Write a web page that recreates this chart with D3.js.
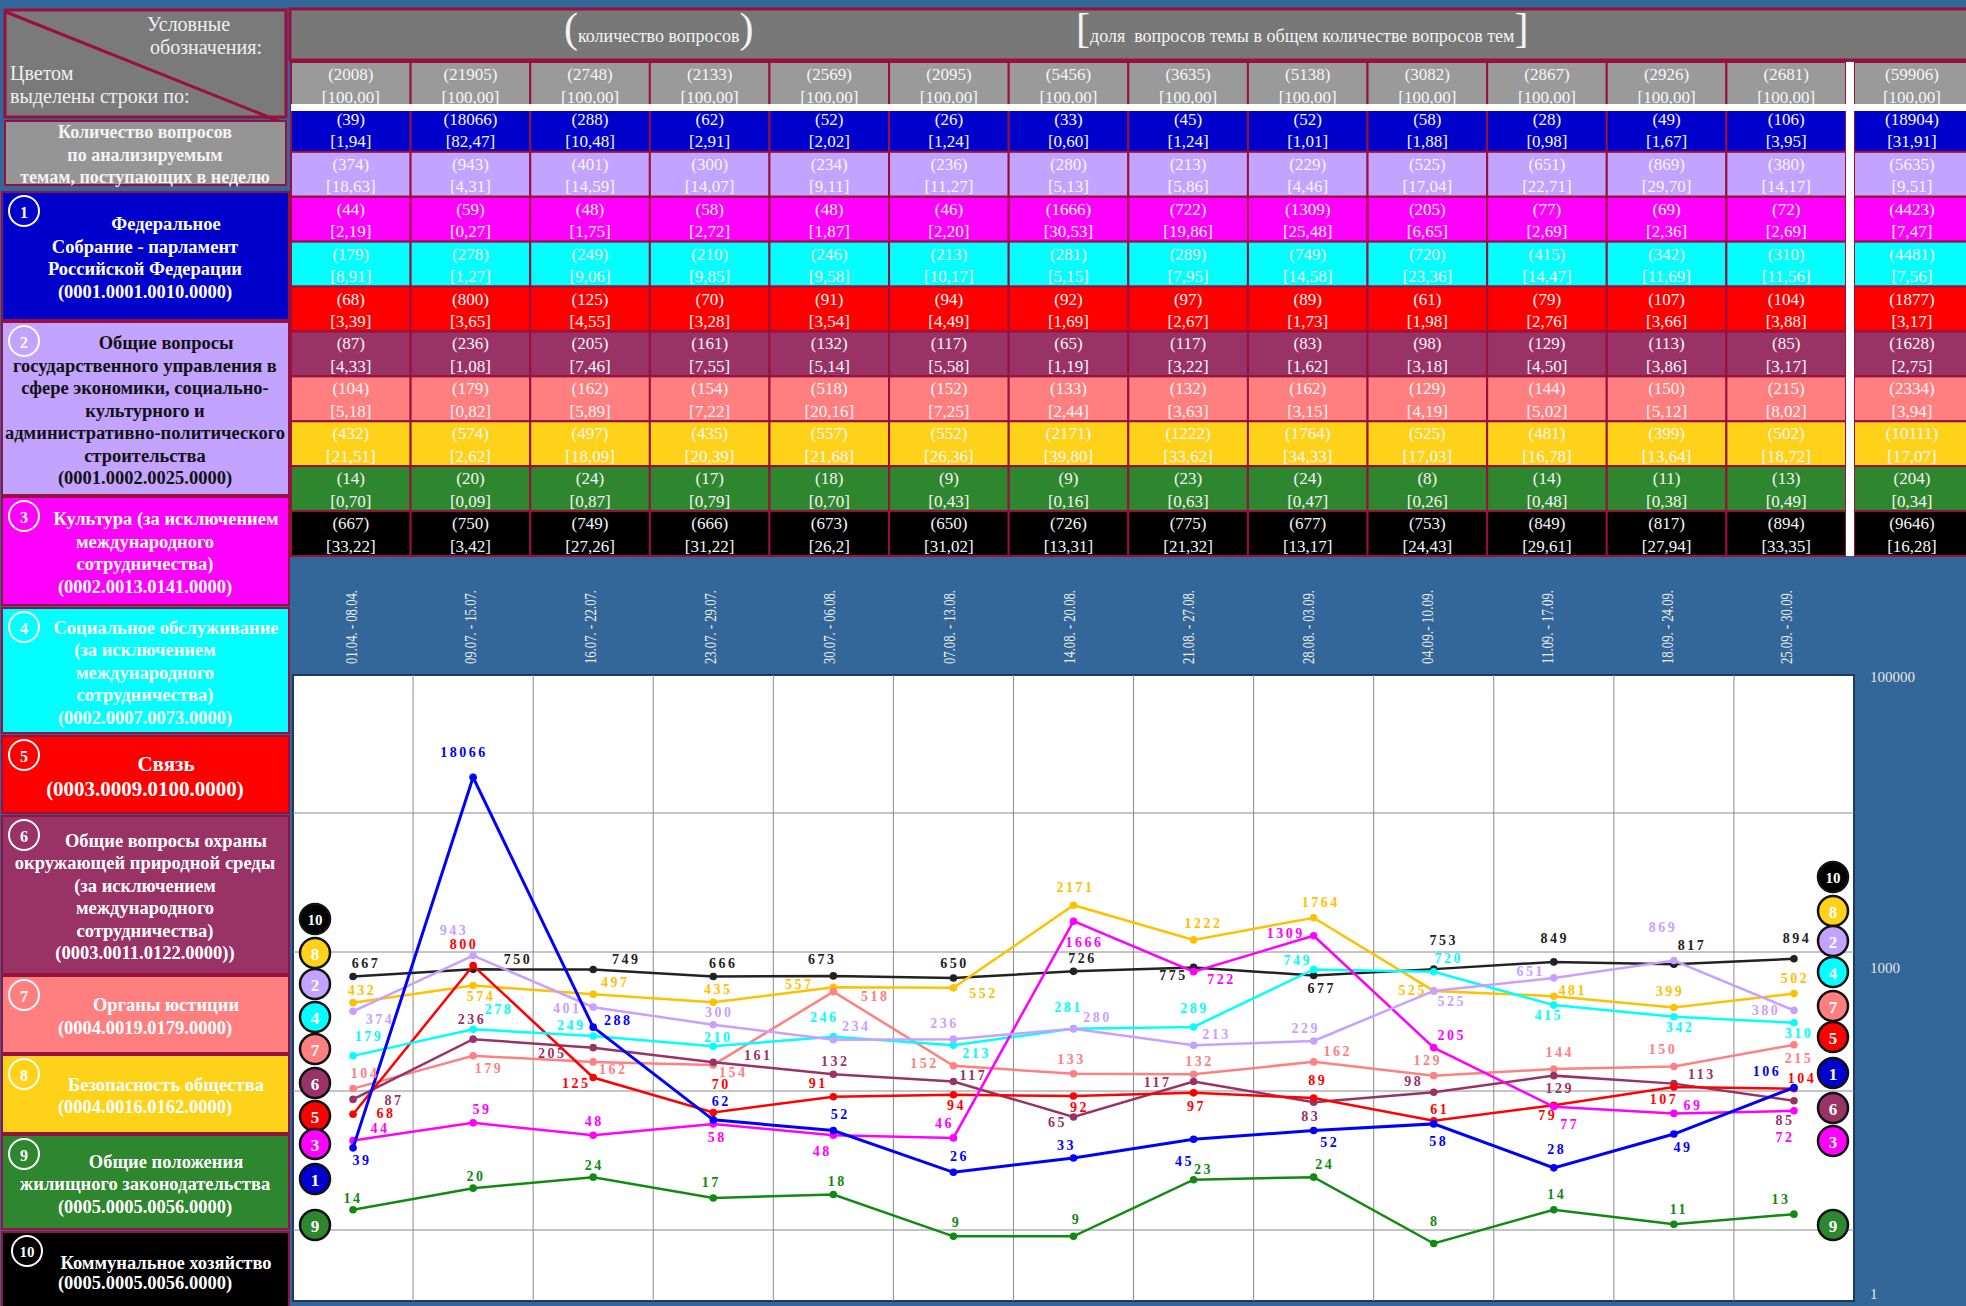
<!doctype html>
<html lang="ru">
<head>
<meta charset="utf-8">
<title>Количество вопросов по анализируемым темам, поступающих в неделю</title>
<script src="https://cdn.jsdelivr.net/npm/d3@7"></script>
<style>
  body { margin: 0; background: #336699; }
  svg { display: block; font-family: "Liberation Serif", "Times New Roman", serif; }
</style>
</head>
<body>
<script>
// ---- data ----
var dates = ["01.04. - 08.04.", "09.07. - 15.07.", "16.07. - 22.07.", "23.07. - 29.07.", "30.07. - 06.08.",
             "07.08. - 13.08.", "14.08. - 20.08.", "21.08. - 27.08.", "28.08. - 03.09.", "04.09.- 10.09.",
             "11.09. - 17.09.", "18.09. - 24.09.", "25.09. - 30.09."];

var weekTotal = [2008, 21905, 2748, 2133, 2569, 2095, 5456, 3635, 5138, 3082, 2867, 2926, 2681];
var grandTotal = 59906;

var q1 = [39, 18066, 288, 62, 52, 26, 33, 45, 52, 58, 28, 49, 106];
var p1 = ["1,94","82,47","10,48","2,91","2,02","1,24","0,60","1,24","1,01","1,88","0,98","1,67","3,95"];
var q2 = [374, 943, 401, 300, 234, 236, 280, 213, 229, 525, 651, 869, 380];
var p2 = ["18,63","4,31","14,59","14,07","9,11","11,27","5,13","5,86","4,46","17,04","22,71","29,70","14,17"];
var q3 = [44, 59, 48, 58, 48, 46, 1666, 722, 1309, 205, 77, 69, 72];
var p3 = ["2,19","0,27","1,75","2,72","1,87","2,20","30,53","19,86","25,48","6,65","2,69","2,36","2,69"];
var q4 = [179, 278, 249, 210, 246, 213, 281, 289, 749, 720, 415, 342, 310];
var p4 = ["8,91","1,27","9,06","9,85","9,58","10,17","5,15","7,95","14,58","23,36","14,47","11,69","11,56"];
var q5 = [68, 800, 125, 70, 91, 94, 92, 97, 89, 61, 79, 107, 104];
var p5 = ["3,39","3,65","4,55","3,28","3,54","4,49","1,69","2,67","1,73","1,98","2,76","3,66","3,88"];
var q6 = [87, 236, 205, 161, 132, 117, 65, 117, 83, 98, 129, 113, 85];
var p6 = ["4,33","1,08","7,46","7,55","5,14","5,58","1,19","3,22","1,62","3,18","4,50","3,86","3,17"];
var q7 = [104, 179, 162, 154, 518, 152, 133, 132, 162, 129, 144, 150, 215];
var p7 = ["5,18","0,82","5,89","7,22","20,16","7,25","2,44","3,63","3,15","4,19","5,02","5,12","8,02"];
var q8 = [432, 574, 497, 435, 557, 552, 2171, 1222, 1764, 525, 481, 399, 502];
var p8 = ["21,51","2,62","18,09","20,39","21,68","26,36","39,80","33,62","34,33","17,03","16,78","13,64","18,72"];
var q9 = [14, 20, 24, 17, 18, 9, 9, 23, 24, 8, 14, 11, 13];
var p9 = ["0,70","0,09","0,87","0,79","0,70","0,43","0,16","0,63","0,47","0,26","0,48","0,38","0,49"];
var q10 = [667, 750, 749, 666, 673, 650, 726, 775, 677, 753, 849, 817, 894];
var p10 = ["33,22","3,42","27,26","31,22","26,2","31,02","13,31","21,32","13,17","24,43","29,61","27,94","33,35"];

var sumQ = [18904, 5635, 4423, 4481, 1877, 1628, 2334, 10111, 204, 9646];
var sumP = ["31,91","9,51","7,47","7,56","3,17","2,75","3,94","17,07","0,34","16,28"];

var legendLines = [
  ["Федеральное", "Собрание - парламент", "Российской Федерации", "(0001.0001.0010.0000)"],
  ["Общие вопросы", "государственного управления в", "сфере экономики, социально-", "культурного и", "административно-политического", "строительства", "(0001.0002.0025.0000)"],
  ["Культура (за исключением", "международного", "сотрудничества)", "(0002.0013.0141.0000)"],
  ["Социальное обслуживание", "(за исключением", "международного", "сотрудничества)", "(0002.0007.0073.0000)"],
  ["Связь", "(0003.0009.0100.0000)"],
  ["Общие вопросы охраны", "окружающей природной среды", "(за исключением", "международного", "сотрудничества)", "(0003.0011.0122.0000))"],
  ["Органы юстиции", "(0004.0019.0179.0000)"],
  ["Безопасность общества", "(0004.0016.0162.0000)"],
  ["Общие положения", "жилищного законодательства", "(0005.0005.0056.0000)"],
  ["Коммунальное хозяйство", "(0005.0005.0056.0000)"]
];

// ---- styles / layout ----
var rowFill = ["#0000cc", "#c2a3ff", "#ff00ff", "#00ffff", "#ff0000", "#993366", "#ff7f80", "#ffd21a", "#2e872e", "#000000"];
var lineColor = ["#0000ff", "#c8a0ff", "#ff00ff", "#00ffff", "#ff0000", "#993366", "#ff8080", "#ffc000", "#118a11", "#222222"];
var legendInk = ["#fff", "#111", "#fff", "#fff", "#fff", "#fff", "#fff", "#fff", "#fff", "#fff"];
var crimson = "#990f3d";

// label offsets [dx, dy] from each point
var labelOff = [
  [[9,13],[-9,-25],[25,-7],[8,-18],[7,-16],[6,-16],[-7,-12],[-9,22],[16,12],[5,18],[3,-18],[9,13],[-27,-16]],
  [[27,8],[-19,-25],[-26,1],[6,-12],[23,-13],[-9,-16],[24,-11],[23,-11],[-8,-12],[18,11],[-23,-6],[-11,-33],[-28,0]],
  [[27,-12],[9,-13],[1,-14],[4,14],[-11,16],[-9,-14],[11,21],[28,8],[-28,-2],[18,-12],[16,18],[19,-8],[-9,27]],
  [[16,-19],[26,-20],[-22,-10],[5,-9],[-9,-19],[23,8],[-5,-21],[1,-18],[-16,-9],[15,-13],[-5,10],[6,11],[5,11]],
  [[33,-1],[-9,-21],[-17,6],[8,-28],[-15,-13],[3,11],[6,11],[3,14],[4,-18],[6,-11],[-6,10],[-10,13],[8,-10]],
  [[41,1],[-1,-20],[-41,6],[45,-7],[2,-13],[20,-6],[-16,5],[-36,1],[-3,14],[-20,-11],[6,13],[28,-9],[-9,20]],
  [[12,-15],[16,13],[20,8],[20,8],[42,5],[-29,-2],[-2,-14],[6,-13],[24,-10],[-6,-15],[6,-16],[-11,-17],[5,14]],
  [[9,-12],[8,11],[22,-12],[5,-13],[-34,-3],[30,6],[2,-18],[10,-16],[7,-15],[-21,0],[19,-6],[-4,-16],[1,-15]],
  [[0,-11],[3,-12],[1,-12],[-2,-15],[4,-13],[3,-14],[3,-17],[10,-10],[11,-13],[1,-22],[3,-15],[5,-15],[-13,-15]],
  [[13,-13],[45,-10],[33,-10],[10,-13],[-11,-16],[1,-15],[9,-13],[-20,8],[8,13],[10,-29],[1,-23],[18,-19],[3,-20]]
];

// legend boxes on the left [top, bottom]
var legendBox = [[192,320],[322,495],[497,605],[608,733],[736,813],[816,974],[976,1053],[1055,1133],[1135,1229],[1232,1330]];
// badge stacks at both ends of the chart
var leftBadges = [[10,919],[8,953],[2,984],[4,1017],[7,1049],[6,1083],[5,1116],[3,1144],[1,1179],[9,1225]];
var rightBadges = [[10,877],[8,911],[2,941],[4,972],[7,1006],[5,1037],[1,1073],[6,1108],[3,1141],[9,1225]];

var seriesQ = [q1, q2, q3, q4, q5, q6, q7, q8, q9, q10];
var seriesP = [p1, p2, p3, p4, p5, p6, p7, p8, p9, p10];

var svg = d3.select("body").append("svg").attr("width", 1966).attr("height", 1306);
svg.append("rect").attr("width", 1966).attr("height", 1306).attr("fill", "#336699");

// ---- header band ----
svg.append("rect").attr("x", 290).attr("y", 9).attr("width", 1690).attr("height", 51)
   .attr("fill", "#787878").attr("stroke", crimson).attr("stroke-width", 3);

function caption(x, open, txt, close) {
    var t = svg.append("text").attr("x", x).attr("y", 42).attr("fill", "#f4f4f4").style("white-space", "pre");
    t.append("tspan").attr("font-size", 42).text(open);
    t.append("tspan").attr("font-size", 18).text(txt);
    t.append("tspan").attr("font-size", 42).text(close);
}
caption(564, "(", "количество вопросов", ")");
caption(1076, "[", "доля  вопросов темы в общем количестве вопросов тем", "]");

// ---- table ----
var rowKeys = ["all", "1", "2", "3", "4", "5", "6", "7", "8", "9", "10"];
var xCol = d3.scaleBand().domain(dates).range([291, 1846]);
var yRow = d3.scaleBand().domain(rowKeys).range([62, 556]);

var tableRows = [{key: "all", fill: "#9a9a9a", q: weekTotal, p: dates.map(function(){return "100,00";}), sq: grandTotal, sp: "100,00"}];
seriesQ.forEach(function(q, i){
    tableRows.push({key: String(i + 1), fill: rowFill[i], q: q, p: seriesP[i], sq: sumQ[i], sp: sumP[i]});
});

var cells = [];
tableRows.forEach(function(r){
    dates.forEach(function(d, i){
        cells.push({row: r.key, x: xCol(d), w: xCol.bandwidth(), q: r.q[i], p: r.p[i], fill: r.fill});
    });
    cells.push({row: r.key, x: 1854, w: 116, q: r.sq, p: r.sp, fill: r.fill});
});

var cell = svg.append("g").selectAll("g").data(cells).enter().append("g");
cell.append("rect")
    .attr("x", function(d){return d.x;})
    .attr("y", function(d){return yRow(d.row);})
    .attr("width", function(d){return d.w;})
    .attr("height", yRow.bandwidth())
    .attr("fill", function(d){return d.fill;})
    .attr("stroke", crimson).attr("stroke-width", 2);
cell.append("text")
    .attr("x", function(d){return d.x + d.w / 2;})
    .attr("y", function(d){return yRow(d.row) + 12.5;})
    .attr("text-anchor", "middle").attr("dominant-baseline", "central")
    .attr("font-size", 17).attr("fill", "#f6f6f6")
    .text(function(d){return "(" + d.q + ")";});
cell.append("text")
    .attr("x", function(d){return d.x + d.w / 2;})
    .attr("y", function(d){return yRow(d.row) + 35;})
    .attr("text-anchor", "middle").attr("dominant-baseline", "central")
    .attr("font-size", 17).attr("fill", "#f6f6f6")
    .text(function(d){return "[" + d.p + "]";});

// white separators
svg.append("rect").attr("x", 291).attr("y", 104).attr("width", 1680).attr("height", 7).attr("fill", "#fff");
svg.append("rect").attr("x", 1846).attr("y", 62).attr("width", 8).attr("height", 494).attr("fill", "#fff");

// ---- week labels ----
svg.append("g").selectAll("text").data(dates).enter().append("text")
    .attr("transform", function(d){return "translate(" + (xCol(d) + xCol.bandwidth() / 2 + 6) + ",664) rotate(-90)";})
    .attr("font-size", 17).attr("fill", "#eeeeee")
    .attr("textLength", 74).attr("lengthAdjust", "spacingAndGlyphs")
    .text(function(d){return d;});

// ---- chart ----
var xPlot = d3.scaleBand().domain(dates).range([293, 1854]);
var y = d3.scaleLog().domain([1, 100000]).range([1369, 674]);
function px(i){ return xPlot(dates[i]) + xPlot.bandwidth() / 2; }

svg.append("clipPath").attr("id", "plotClip").append("rect")
   .attr("x", 293).attr("y", 675).attr("width", 1561).attr("height", 626);
svg.append("rect").attr("x", 293).attr("y", 675).attr("width", 1561).attr("height", 626)
   .attr("fill", "#fff").attr("stroke", "#1d3a5c").attr("stroke-width", 2);

var plot = svg.append("g").attr("clip-path", "url(#plotClip)");
plot.append("g").selectAll("line").data(dates.slice(1)).enter().append("line")
    .attr("x1", function(d){return xPlot(d);}).attr("x2", function(d){return xPlot(d);})
    .attr("y1", 675).attr("y2", 1301)
    .attr("stroke", "#8a8a8a").attr("stroke-width", 1);
plot.append("g").selectAll("line").data([10, 100, 1000, 10000]).enter().append("line")
    .attr("x1", 293).attr("x2", 1854)
    .attr("y1", function(d){return y(d);}).attr("y2", function(d){return y(d);})
    .attr("stroke", "#8a8a8a").attr("stroke-width", 1);

var line = d3.line().x(function(d, i){return px(i);}).y(function(d){return y(d);});
var order = [9, 8, 7, 6, 5, 4, 3, 2, 1, 0];

order.forEach(function(s){
    var g = plot.append("g");
    g.append("path").attr("d", line(seriesQ[s])).attr("fill", "none")
     .attr("stroke", lineColor[s]).attr("stroke-width", s === 0 ? 3 : 2.5);
    g.selectAll("circle").data(seriesQ[s]).enter().append("circle")
     .attr("cx", function(d, i){return px(i);})
     .attr("cy", function(d){return y(d);})
     .attr("r", 3.8).attr("fill", lineColor[s]);
});
order.forEach(function(s){
    plot.append("g").selectAll("text").data(seriesQ[s]).enter().append("text")
     .attr("x", function(d, i){return px(i) + labelOff[s][i][0];})
     .attr("y", function(d, i){return y(d) + labelOff[s][i][1];})
     .attr("text-anchor", "middle").attr("dominant-baseline", "central")
     .attr("font-size", 14).attr("font-weight", "bold").attr("letter-spacing", 2.5)
     .attr("fill", lineColor[s])
     .text(function(d){return d;});
});

function badges(list, cx) {
    var b = svg.append("g").selectAll("g").data(list).enter().append("g");
    b.append("circle").attr("cx", cx).attr("cy", function(d){return d[1];}).attr("r", 15)
     .attr("fill", function(d){return rowFill[d[0] - 1];}).attr("stroke", "#111").attr("stroke-width", 2.5);
    b.append("text").attr("x", cx).attr("y", function(d){return d[1] + 1;})
     .attr("text-anchor", "middle").attr("dominant-baseline", "central")
     .attr("font-size", function(d){return d[0] === 10 ? 15 : 17;}).attr("font-weight", "bold").attr("fill", "#fff")
     .text(function(d){return d[0];});
}
badges(leftBadges, 315);
badges(rightBadges, 1833);

// right axis captions
var yRight = d3.scaleLog().domain([1, 1000, 100000]).range([1294, 968, 677]);
svg.append("g").selectAll("text").data([100000, 1000, 1]).enter().append("text")
    .attr("x", 1870).attr("y", function(d){return yRight(d);})
    .attr("dominant-baseline", "central").attr("font-size", 15).attr("fill", "#e6e6e6")
    .text(function(d){return d;});

// ---- left legend ----
svg.append("rect").attr("x", 5).attr("y", 10).attr("width", 281).attr("height", 107)
   .attr("fill", "#7a7a7a").attr("stroke", crimson).attr("stroke-width", 3);
svg.append("line").attr("x1", 6).attr("y1", 12).attr("x2", 286).attr("y2", 124)
   .attr("stroke", crimson).attr("stroke-width", 3);
var head = svg.append("g").attr("fill", "#f0f0f0").attr("font-size", 20);
head.append("text").attr("x", 147).attr("y", 31).text("Условные");
head.append("text").attr("x", 150).attr("y", 54).text("обозначения:");
head.append("text").attr("x", 10).attr("y", 80).text("Цветом");
head.append("text").attr("x", 10).attr("y", 103).text("выделены строки по:");

svg.append("rect").attr("x", 5).attr("y", 121).attr("width", 281).attr("height", 64)
   .attr("fill", "#959595").attr("stroke", crimson).attr("stroke-width", 2);
svg.append("g").selectAll("text").data(["Количество вопросов", "по анализируемым", "темам, поступающих в неделю"])
   .enter().append("text")
   .attr("x", 145).attr("y", function(d, i){return 132 + i * 22.5;})
   .attr("text-anchor", "middle").attr("dominant-baseline", "central")
   .attr("font-size", 18).attr("font-weight", "bold").attr("fill", "#f4f4f4")
   .text(function(d){return d;});

legendLines.forEach(function(lines, i){
    var top = legendBox[i][0], bottom = legendBox[i][1];
    var g = svg.append("g");
    g.append("rect").attr("x", 2).attr("y", top).attr("width", 287).attr("height", bottom - top)
     .attr("fill", rowFill[i]).attr("stroke", crimson).attr("stroke-width", 2);
    g.append("circle").attr("cx", i === 9 ? 27 : 24).attr("cy", top + 19).attr("r", 15)
     .attr("fill", "none").attr("stroke", "#fff").attr("stroke-width", 2);
    g.append("text").attr("x", i === 9 ? 27 : 24).attr("y", top + 20)
     .attr("text-anchor", "middle").attr("dominant-baseline", "central")
     .attr("font-size", i === 9 ? 15 : 16).attr("font-weight", "bold").attr("fill", "#fff")
     .text(i + 1);
    var lh = i === 4 ? 25 : (i === 9 ? 20 : 22.5);
    var fs = i === 4 ? 21 : 18.5;
    var mid = (Math.min(bottom, 1310) + top) / 2 + 2;
    g.selectAll("text.l").data(lines).enter().append("text").attr("class", "l")
     .attr("x", function(d, j){return j === 0 && lines.length > 1 ? 166 : 145;})
     .attr("y", function(d, j){return mid + (j - (lines.length - 1) / 2) * lh;})
     .attr("text-anchor", "middle").attr("dominant-baseline", "central")
     .attr("font-size", fs).attr("font-weight", "bold").attr("fill", legendInk[i])
     .text(function(d){return d;});
});
</script>
</body>
</html>
